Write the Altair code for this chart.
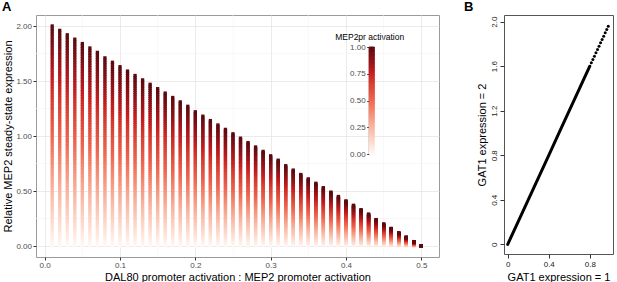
import altair as alt
import pandas as pd

# ---------------- Panel A data ----------------
RATIO = [0.01, 0.02, 0.03, 0.04, 0.05, 0.06, 0.07, 0.08, 0.09, 0.10,
         0.11, 0.12, 0.13, 0.14, 0.15, 0.16, 0.17, 0.18, 0.19, 0.20,
         0.21, 0.22, 0.23, 0.24, 0.25, 0.26, 0.27, 0.28, 0.29, 0.30,
         0.31, 0.32, 0.33, 0.34, 0.35, 0.36, 0.37, 0.38, 0.39, 0.40,
         0.41, 0.42, 0.43, 0.44, 0.45, 0.46, 0.47, 0.48, 0.49, 0.50]
TOPS = [2.00, 1.96, 1.92, 1.88, 1.84, 1.80, 1.76, 1.71, 1.67, 1.63,
        1.59, 1.55, 1.51, 1.47, 1.43, 1.39, 1.35, 1.31, 1.27, 1.22,
        1.18, 1.14, 1.10, 1.06, 1.02, 0.98, 0.94, 0.90, 0.86, 0.82,
        0.78, 0.73, 0.69, 0.65, 0.61, 0.57, 0.53, 0.49, 0.45, 0.41,
        0.37, 0.33, 0.29, 0.24, 0.20, 0.16, 0.12, 0.08, 0.04, 0.00]
ACTIVATION = [0.0000, 0.0125, 0.0250, 0.0375, 0.0500, 0.0625, 0.0750, 0.0875,
              0.1000, 0.1125, 0.1250, 0.1375, 0.1500, 0.1625, 0.1750, 0.1875,
              0.2000, 0.2125, 0.2250, 0.2375, 0.2500, 0.2625, 0.2750, 0.2875,
              0.3000, 0.3125, 0.3250, 0.3375, 0.3500, 0.3625, 0.3750, 0.3875,
              0.4000, 0.4125, 0.4250, 0.4375, 0.4500, 0.4625, 0.4750, 0.4875,
              0.5000, 0.5125, 0.5250, 0.5375, 0.5500, 0.5625, 0.5750, 0.5875,
              0.6000, 0.6125, 0.6250, 0.6375, 0.6500, 0.6625, 0.6750, 0.6875,
              0.7000, 0.7125, 0.7250, 0.7375, 0.7500, 0.7625, 0.7750, 0.7875,
              0.8000, 0.8125, 0.8250, 0.8375, 0.8500, 0.8625, 0.8750, 0.8875,
              0.9000, 0.9125, 0.9250, 0.9375, 0.9500, 0.9625, 0.9750, 0.9875,
              1.0000]
A_X_TICKS = [0.0, 0.1, 0.2, 0.3, 0.4, 0.5]
A_Y_TICKS = [0.0, 0.5, 1.0, 1.5, 2.0]
A_MINOR_X = [0.05, 0.15, 0.25, 0.35, 0.45]
A_MINOR_Y = [0.25, 0.75, 1.25, 1.75]
LEGEND_TICKS = [0.0, 0.25, 0.5, 0.75, 1.0]
COLOR_STOPS = [0.0, 0.25, 0.5, 0.75, 1.0]
COLOR_RANGE = ["#FFF8F5", "#F8B6A3", "#EE6550", "#C81F21", "#5C0A0F"]

# ---------------- Panel B data ----------------
B_LINE_X = [0.0, 0.1, 0.2, 0.3, 0.4, 0.5, 0.6, 0.7, 0.8]
B_LINE_Y = [0.0, 0.2, 0.4, 0.6, 0.8, 1.0, 1.2, 1.4, 1.6]
B_DOT_X = [0.815, 0.83, 0.845, 0.86, 0.875, 0.89, 0.905, 0.92, 0.935, 0.95, 0.965, 0.98]
B_DOT_Y = [1.63, 1.66, 1.69, 1.72, 1.75, 1.78, 1.81, 1.84, 1.87, 1.90, 1.93, 1.96]
B_X_TICKS = [0.0, 0.2, 0.4, 0.6, 0.8, 1.0]
B_Y_TICKS = [0.0, 0.4, 0.8, 1.2, 1.6, 2.0]

FONT = "Liberation Sans"

rows = []
for r, top in zip(RATIO, TOPS):
    for a in ACTIVATION:
        rows.append({"ratio": r, "expr": a * top, "act": a})
df_a = pd.DataFrame(rows)
df_leg = pd.DataFrame({"lo": ACTIVATION[:-1], "hi": ACTIVATION[1:]})

xA = alt.Scale(domain=[-0.0115, 0.5235], nice=False, zero=False)
yA = alt.Scale(domain=[-0.1, 2.1], nice=False, zero=False)
colA = alt.Scale(domain=COLOR_STOPS, range=COLOR_RANGE)

X_TITLE_A = "DAL80 promoter activation : MEP2 promoter activation"
Y_TITLE_A = "Relative MEP2 steady-state expression"
ax_a_x = alt.Axis(
    values=A_X_TICKS, format=".1f", title=X_TITLE_A,
    titleFontSize=11, titleFontWeight="normal", titleColor="black",
    labelFontSize=8, labelColor="#4D4D4D", tickColor="#333333",
    tickSize=3, labelPadding=1.5, titlePadding=2, domain=False,
    gridColor="#E6E6E6", gridWidth=0.8, labelFlush=False)
ax_a_y = alt.Axis(
    values=A_Y_TICKS, format=".2f", title=Y_TITLE_A,
    titleFontSize=11, titleFontWeight="normal", titleColor="black",
    labelFontSize=8, labelColor="#4D4D4D", tickColor="#333333",
    tickSize=3, labelPadding=1.5, titlePadding=2, domain=False,
    gridColor="#E6E6E6", gridWidth=0.8, labelFlush=False)

minor_x = alt.Chart(pd.DataFrame({"v": A_MINOR_X})).mark_rule(
    color="#F3F3F3", strokeWidth=0.6
).encode(x=alt.X("v:Q", scale=xA, axis=ax_a_x, title=X_TITLE_A))
minor_y = alt.Chart(pd.DataFrame({"v": A_MINOR_Y})).mark_rule(
    color="#F3F3F3", strokeWidth=0.6
).encode(y=alt.Y("v:Q", scale=yA, axis=ax_a_y, title=Y_TITLE_A))

pts = alt.Chart(df_a).mark_square(size=11, opacity=1).encode(
    x=alt.X("ratio:Q", scale=xA, axis=ax_a_x, title=X_TITLE_A),
    y=alt.Y("expr:Q", scale=yA, axis=ax_a_y, title=Y_TITLE_A),
    color=alt.Color("act:Q", scale=colA, legend=None),
)

inner_a = alt.layer(minor_x, minor_y, pts)

# colour bar drawn as a layer with its own y scale (legend of MEP2pr activation)
leg_bar = alt.Chart(df_leg).mark_rect(strokeWidth=1).encode(
    x=alt.value(333.2), x2=alt.value(338.3),
    y=alt.Y("lo:Q", scale=alt.Scale(domain=[0, 1], range=[139, 32], nice=False),
            axis=alt.Axis(orient="left", offset=-332.7, values=LEGEND_TICKS,
                          format=".2f", title="MEP2pr activation",
                          titleAngle=0, titleAlign="center",
                          titleBaseline="middle", titleX=0.5, titleY=21,
                          titleFontSize=8.5, titleFontWeight="normal",
                          titleColor="black", labelFontSize=8,
                          labelColor="#4D4D4D", tickColor="#333333",
                          tickSize=2, labelPadding=1.5, domainColor="#333333",
                          domainWidth=0.6, grid=False, labelFlush=False)),
    y2="hi:Q",
    color=alt.Color("lo:Q", scale=colA, legend=None),
    stroke=alt.Stroke("lo:Q", scale=colA, legend=None),
)

panel_a = alt.layer(inner_a, leg_bar).resolve_scale(y="independent").properties(
    width=403, height=242,
    title=alt.TitleParams("A", anchor="start", frame="group", dx=-34,
                          fontSize=13, fontWeight="bold", offset=1,
                          color="black"),
    view=alt.ViewBackground(stroke="#9A9A9A", strokeWidth=1),
)

# ---------------- Panel B ----------------
xB = alt.Scale(domain=[-0.036, 1.026], nice=False, zero=False)
yB = alt.Scale(domain=[-0.087, 2.06], nice=False, zero=False)
lab_expr = "datum.value == 0 ? '0' : format(datum.value, '.1f')"

b_line = alt.Chart(pd.DataFrame({"x": B_LINE_X, "y": B_LINE_Y})).mark_line(
    color="black", strokeWidth=3, strokeCap="round"
).encode(
    x=alt.X("x:Q", scale=xB, axis=alt.Axis(
        values=B_X_TICKS, labelExpr=lab_expr, title="GAT1 expression = 1",
        titleFontSize=11, titleFontWeight="normal", titleColor="black",
        labelFontSize=8, labelColor="#222222", tickColor="#333333",
        tickSize=4, labelPadding=2, titlePadding=3, domain=False, grid=False,
        labelFlush=False)),
    y=alt.Y("y:Q", scale=yB, axis=alt.Axis(
        values=B_Y_TICKS, labelExpr=lab_expr, title="GAT1 expression = 2",
        titleFontSize=11, titleFontWeight="normal", titleColor="black",
        labelFontSize=8, labelColor="#222222", tickColor="#333333",
        tickSize=4, labelPadding=2, titlePadding=3, domain=False, grid=False,
        labelAngle=270, labelAlign="center", labelBaseline="bottom",
        labelFlush=False)),
)
b_dots = alt.Chart(pd.DataFrame({"x": B_DOT_X, "y": B_DOT_Y})).mark_circle(
    color="black", size=9, opacity=1
).encode(x=alt.X("x:Q", scale=xB), y=alt.Y("y:Q", scale=yB))

panel_b = alt.layer(b_line, b_dots).properties(
    width=109, height=239,
    title=alt.TitleParams("B", anchor="start", frame="group", dx=-40,
                          fontSize=13, fontWeight="bold", offset=1,
                          color="black"),
    view=alt.ViewBackground(stroke="#555555", strokeWidth=1),
)

chart = alt.hconcat(panel_a, panel_b, spacing=65, bounds="flush").properties(
    padding={"left": 1, "top": 0, "right": 0, "bottom": 0},
    background="white",
).configure(font=FONT)

chart.save("out.html", embed_options={"renderer": "svg", "actions": False})
